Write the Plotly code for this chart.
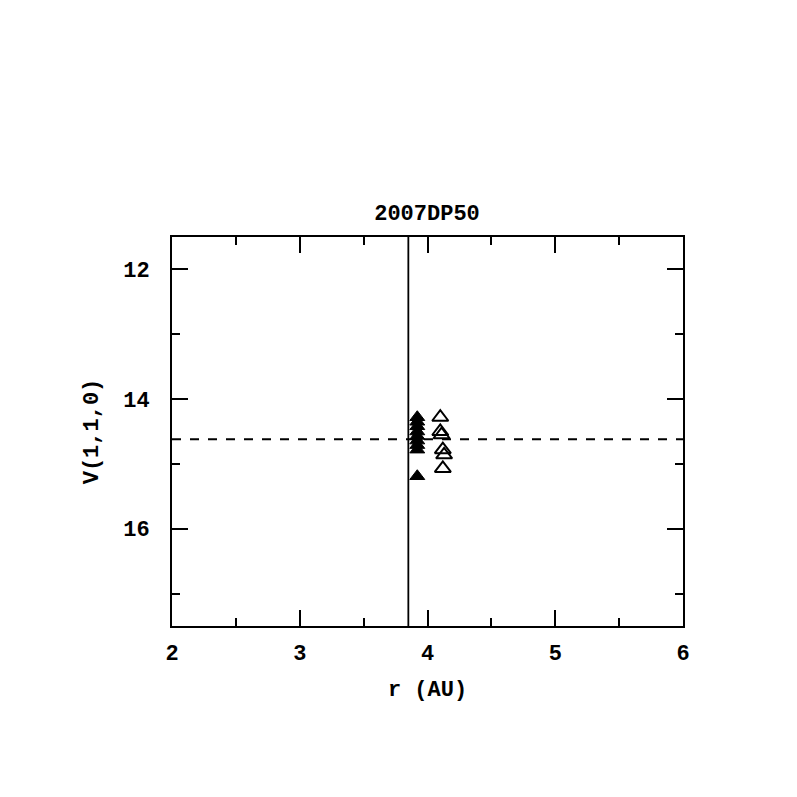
import plotly.graph_objects as go

title_text = "2007DP50"
x_label = "r (AU)"
y_label = "V(1,1,0)"

filled_r = [3.92, 3.92, 3.92, 3.92, 3.92, 3.92, 3.92, 3.92, 3.92]
filled_v = [14.28, 14.35, 14.42, 14.50, 14.57, 14.64, 14.71, 14.78, 15.19]

open_r = [4.10, 4.10, 4.11, 4.12, 4.13, 4.12]
open_v = [14.28, 14.50, 14.55, 14.78, 14.86, 15.07]

vline_r = 3.85
hline_v = 14.62

x_range = [2, 6]
y_range = [17.5, 11.5]

font_family = "Liberation Mono, Courier New, monospace"
font_main = dict(family=font_family, size=22, color="black", weight="bold")

fig = go.Figure()

fig.add_trace(go.Scatter(
    x=filled_r, y=filled_v, mode="markers",
    marker=dict(symbol="triangle-up", size=13, color="black",
                line=dict(color="black", width=1)),
    showlegend=False, cliponaxis=False))

fig.add_trace(go.Scatter(
    x=open_r, y=open_v, mode="markers",
    marker=dict(symbol="triangle-up-open", size=14, color="black",
                line=dict(color="black", width=2)),
    showlegend=False, cliponaxis=False))

fig.add_shape(type="line", xref="x", yref="paper", x0=vline_r, x1=vline_r,
              y0=0, y1=1, line=dict(color="black", width=1.8))
fig.add_shape(type="line", xref="paper", yref="y", x0=0, x1=1,
              y0=hline_v, y1=hline_v, line=dict(color="black", width=2, dash="dash"))

axis_common = dict(
    showgrid=False, zeroline=False,
    showline=True, linecolor="black", linewidth=2, mirror="ticks",
    ticks="inside", ticklen=16, tickwidth=2, tickcolor="black",
    tickfont=font_main,
)

fig.update_xaxes(range=x_range, dtick=1, tick0=0, ticklabelstandoff=6,
                 minor=dict(dtick=0.5, ticks="inside", ticklen=8, tickwidth=2, tickcolor="black"),
                 title=dict(text=x_label, font=font_main, standoff=14),
                 **axis_common)
fig.update_yaxes(range=y_range, dtick=2, tick0=0, ticklabelstandoff=16,
                 minor=dict(dtick=1, ticks="inside", ticklen=8, tickwidth=2, tickcolor="black"),
                 title=dict(text=y_label, font=font_main, standoff=18),
                 **axis_common)

fig.update_layout(
    width=797, height=797,
    margin=dict(l=164, r=122, t=229, b=179),
    plot_bgcolor="white", paper_bgcolor="white",
    title=dict(text=title_text, x=(427 - 8) / 797, xanchor="center", y=1 - 204/797, yanchor="middle",
               font=font_main),
)

fig.write_html("out.html")
